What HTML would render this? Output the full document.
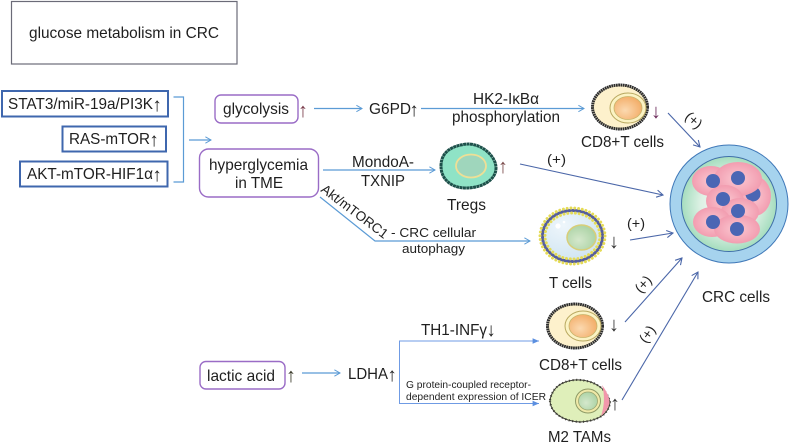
<!DOCTYPE html>
<html><head><meta charset="utf-8"><style>
html,body{margin:0;padding:0;background:#fff}
svg{display:block}
text{font-family:"Liberation Sans",sans-serif;fill:#1f1f1f}
.ar{font-size:20px;text-anchor:middle}
.ai{font-size:19px;text-anchor:middle}
</style></head><body>
<svg width="790" height="444" viewBox="0 0 790 444" xmlns="http://www.w3.org/2000/svg">
<defs>
<marker id="lb" viewBox="0 0 10 10" refX="9" refY="5" markerWidth="8" markerHeight="8" markerUnits="userSpaceOnUse" orient="auto"><path d="M2 1L9 5L2 9" fill="none" stroke="#5B9BD5" stroke-width="1.2"/></marker>
<marker id="db" viewBox="0 0 10 10" refX="9" refY="5" markerWidth="9" markerHeight="9" markerUnits="userSpaceOnUse" orient="auto"><path d="M2 1L9 5L2 9" fill="none" stroke="#4A66A8" stroke-width="1.2"/></marker>
<marker id="bl" viewBox="0 0 10 10" refX="9" refY="5" markerWidth="8" markerHeight="8" markerUnits="userSpaceOnUse" orient="auto"><path d="M1 1.500L9 5L1 8.500Z" fill="#5B8FE0"/></marker>
<radialGradient id="or" cx="0.4" cy="0.6" r="0.7"><stop offset="0" stop-color="#FBD9B0"/><stop offset="1" stop-color="#F2A860"/></radialGradient>
<radialGradient id="gr" cx="0.4" cy="0.6" r="0.7"><stop offset="0" stop-color="#D5E8CC"/><stop offset="1" stop-color="#A6D0A0"/></radialGradient>
<radialGradient id="pk"><stop offset="0" stop-color="#FBC9D2"/><stop offset="1" stop-color="#F29DB0"/></radialGradient>
<radialGradient id="mint"><stop offset="0" stop-color="#fff"/><stop offset="0.6" stop-color="#DDF1E4"/><stop offset="1" stop-color="#A5DDBE"/></radialGradient>
<radialGradient id="tc" cx="0.35" cy="0.3" r="0.8"><stop offset="0" stop-color="#EEF6FB"/><stop offset="1" stop-color="#CDE3F1"/></radialGradient>
</defs>

<rect x="11.500" y="1.500" width="225.500" height="62.500" fill="#fff" stroke="#6b6b78" stroke-width="1.200"/>
<text x="29" y="38" font-size="16" textLength="190" lengthAdjust="spacingAndGlyphs">glucose metabolism in CRC</text>

<g fill="#fff" stroke="#3F67AE" stroke-width="2">
<rect x="2" y="91" width="166" height="25.500"/>
<rect x="62.500" y="126.500" width="103.500" height="25"/>
<rect x="20" y="161.500" width="147.500" height="25"/>
</g>
<g font-size="16">
<text x="8" y="109" textLength="145" lengthAdjust="spacingAndGlyphs">STAT3/miR-19a/PI3K</text>
<text x="69" y="144" textLength="81" lengthAdjust="spacingAndGlyphs">RAS-mTOR</text>
<text x="27" y="179" textLength="126" lengthAdjust="spacingAndGlyphs">AKT-mTOR-HIF1α</text>
</g>
<text class="ai" x="157" y="111">↑</text>
<text class="ai" x="154" y="146">↑</text>
<text class="ai" x="157" y="181">↑</text>

<path d="M173.500 97H183.500V182H173.500" fill="none" stroke="#5B9BD5" stroke-width="1.200"/>
<line x1="189" y1="140" x2="211" y2="140" stroke="#5B9BD5" stroke-width="1.200" marker-end="url(#lb)"/>

<g fill="#fff" stroke="#9A6CC6" stroke-width="1.400">
<rect x="215" y="95" width="83" height="28" rx="6"/>
<rect x="199.500" y="149" width="119" height="48" rx="9"/>
<rect x="200" y="361.500" width="85" height="27.500" rx="6"/>
</g>
<text x="223" y="114" font-size="16" textLength="66" lengthAdjust="spacingAndGlyphs">glycolysis</text>
<text class="ar" x="303" y="117" style="fill:#7a3b4a">↑</text>
<text x="209" y="170" font-size="16" textLength="99" lengthAdjust="spacingAndGlyphs">hyperglycemia</text>
<text x="235" y="188" font-size="16" textLength="48" lengthAdjust="spacingAndGlyphs">in TME</text>
<text x="207" y="381" font-size="16" textLength="68" lengthAdjust="spacingAndGlyphs">lactic acid</text>
<text class="ar" x="291" y="382" style="fill:#3a3a2a">↑</text>

<g fill="none" stroke="#5B9BD5" stroke-width="1.200">
<line x1="314" y1="108.500" x2="362" y2="108.500" marker-end="url(#lb)"/>
<line x1="421" y1="108.500" x2="584" y2="108.500" marker-end="url(#lb)"/>
<line x1="323" y1="170" x2="435" y2="170" marker-end="url(#lb)"/>
<path d="M320 197L375 241H530" marker-end="url(#lb)"/>
<line x1="302" y1="373" x2="340" y2="373" marker-end="url(#lb)"/>
</g>
<path d="M538 341H399.500V403.500H538" fill="none" stroke="#6F9BE4" stroke-width="1"/>
<line x1="500" y1="341" x2="539" y2="341" stroke="#6F9BE4" stroke-width="1" marker-end="url(#bl)"/>
<line x1="500" y1="403.500" x2="539" y2="403.500" stroke="#6F9BE4" stroke-width="1" marker-end="url(#bl)"/>

<g fill="none" stroke="#4A66A8" stroke-width="1.100">
<line x1="668" y1="113" x2="700" y2="147" marker-end="url(#db)"/>
<line x1="520" y1="164" x2="663" y2="195" marker-end="url(#db)"/>
<line x1="630" y1="240" x2="673" y2="233" marker-end="url(#db)"/>
<line x1="625" y1="322" x2="682" y2="258" marker-end="url(#db)"/>
<line x1="622" y1="400" x2="698" y2="272" marker-end="url(#db)"/>
</g>

<g font-size="16">
<text x="369" y="114" textLength="42" lengthAdjust="spacingAndGlyphs">G6PD</text>
<text x="473" y="104" textLength="66" lengthAdjust="spacingAndGlyphs">HK2-IκBα</text>
<text x="452" y="122" textLength="108" lengthAdjust="spacingAndGlyphs">phosphorylation</text>
<text x="581" y="147" textLength="83" lengthAdjust="spacingAndGlyphs">CD8+T cells</text>
<text x="352" y="167" textLength="62" lengthAdjust="spacingAndGlyphs">MondoA-</text>
<text x="361" y="186" textLength="44" lengthAdjust="spacingAndGlyphs">TXNIP</text>
<text x="447" y="210" textLength="39" lengthAdjust="spacingAndGlyphs">Tregs</text>
<text x="549" y="288" textLength="43" lengthAdjust="spacingAndGlyphs">T cells</text>
<text x="539" y="370" textLength="83" lengthAdjust="spacingAndGlyphs">CD8+T cells</text>
<text x="548" y="442" textLength="63" lengthAdjust="spacingAndGlyphs">M2 TAMs</text>
<text x="702" y="302" textLength="68" lengthAdjust="spacingAndGlyphs">CRC cells</text>
<text x="348" y="379" textLength="40" lengthAdjust="spacingAndGlyphs">LDHA</text>
<text x="421" y="335" textLength="66" lengthAdjust="spacingAndGlyphs">TH1-INFγ</text>
</g>
<text class="ai" x="414" y="116">↑</text>
<text class="ai" x="392" y="381">↑</text>
<text class="ai" x="491" y="336">↓</text>
<g font-size="14">
<text x="547" y="164" textLength="19" lengthAdjust="spacingAndGlyphs">(+)</text>
<text x="627" y="228" textLength="18" lengthAdjust="spacingAndGlyphs">(+)</text>
<text transform="translate(694 120) rotate(42)" text-anchor="middle" y="5">(+)</text>
<text transform="translate(643 284) rotate(-48)" text-anchor="middle" y="5">(+)</text>
<text transform="translate(647 334) rotate(-55)" text-anchor="middle" y="5">(+)</text>
</g>
<text transform="translate(320 191) rotate(37)" font-size="13.500" textLength="80" lengthAdjust="spacingAndGlyphs">Akt/mTORC1</text>
<text x="391" y="237" font-size="13" textLength="85" lengthAdjust="spacingAndGlyphs">- CRC cellular</text>
<text x="402" y="253" font-size="13" textLength="63" lengthAdjust="spacingAndGlyphs">autophagy</text>
<text x="406" y="388" font-size="10.500" textLength="125" lengthAdjust="spacingAndGlyphs">G protein-coupled receptor-</text>
<text x="406" y="400" font-size="10.500" textLength="140" lengthAdjust="spacingAndGlyphs">dependent expression of ICER</text>

<text class="ar" x="656" y="118" style="fill:#6b2a5a">↓</text>
<text class="ar" x="503" y="173" style="fill:#7a4a4a">↑</text>
<text class="ar" x="614" y="248" style="fill:#333">↓</text>
<text class="ar" x="614" y="331" style="fill:#333">↓</text>
<text class="ar" x="615" y="410" style="fill:#333">↑</text>

<!-- CD8 upper -->
<ellipse cx="620" cy="107" rx="27.500" ry="22" fill="#FDF1CC" stroke="#2d2d2d" stroke-width="3" stroke-dasharray="1.800 .5"/>
<ellipse cx="628" cy="108" rx="18" ry="15" fill="#FBF3C4" stroke="#B8A860" stroke-width="1"/>
<ellipse cx="628" cy="108" rx="14" ry="11.500" fill="url(#or)" stroke="#C9B46A" stroke-width=".8"/>
<!-- CD8 lower -->
<ellipse cx="575" cy="326" rx="27.500" ry="22" fill="#FDF1CC" stroke="#2d2d2d" stroke-width="3" stroke-dasharray="1.800 .5"/>
<ellipse cx="583" cy="326" rx="18" ry="15" fill="#FBF3C4" stroke="#B8A860" stroke-width="1"/>
<ellipse cx="583" cy="326" rx="14" ry="11.500" fill="url(#or)" stroke="#C9B46A" stroke-width=".8"/>

<!-- Tregs -->
<path d="M441 166C441 150 455 145 468 144C482 144 496 156 496 168C496 180 482 188 466 188C452 188 441 180 441 166Z" fill="#8FE3C6" stroke="#1d504a" stroke-width="3" stroke-dasharray="3 .4"/>
<ellipse cx="471" cy="166" rx="15" ry="11.500" fill="#9FD6BC" stroke="#EEDF96" stroke-width="1.800"/>

<!-- T cell -->
<ellipse cx="572.500" cy="236" rx="30" ry="25.500" fill="url(#tc)" stroke="#565E9E" stroke-width="3"/>
<ellipse cx="572.500" cy="236" rx="32.500" ry="28" fill="none" stroke="#E5DB55" stroke-width="3" stroke-linecap="round" stroke-dasharray="0.01 3.800"/>
<ellipse cx="572.500" cy="236" rx="27.500" ry="23" fill="none" stroke="#E5DB55" stroke-width="3" stroke-linecap="round" stroke-dasharray="0.01 3.800"/>
<circle cx="558" cy="226" r="2.600" fill="#fff"/><circle cx="564" cy="222" r="1.300" fill="#fff"/>
<ellipse cx="581.500" cy="237.500" rx="14.500" ry="12.500" fill="url(#gr)" stroke="#D8CE78" stroke-width="1.500"/>

<!-- M2 -->
<path d="M550 400C552 390 558 382 574 380C590 379 606 386 610 402C609 414 598 421 580 422C562 421 550 412 550 400Z" fill="#DFEFBA" stroke="#3b3b33" stroke-width="1"/>
<path d="M550 400C552 390 558 382 574 380C590 379 606 386 610 402C609 414 598 421 580 422C562 421 550 412 550 400Z" fill="none" stroke="#3b3b33" stroke-width="2.200" stroke-dasharray="1 2.600"/>
<path d="M602 385C607 392 609.500 397 609.500 403C608.500 408 605 413 601 416C604.500 406 605 395 602 385Z" fill="#F197AB"/>
<ellipse cx="588" cy="401" rx="12.500" ry="12" fill="#EFE9A8" stroke="#8E9A66" stroke-width="1"/>
<ellipse cx="588" cy="401" rx="9.500" ry="9" fill="url(#gr)" stroke="#9aa56f" stroke-width=".8"/>

<!-- CRC -->
<circle cx="729" cy="204" r="59" fill="#A6D3EE" stroke="#3F78B8" stroke-width="1"/>
<circle cx="729" cy="204" r="47.500" fill="url(#mint)" stroke="#3F6FA8" stroke-width="1"/>
<ellipse cx="754" cy="196" rx="17" ry="20" fill="url(#pk)"/><circle cx="753" cy="194" r="7.500" fill="#4A66B4"/>
<ellipse cx="711" cy="181" rx="19" ry="15" fill="url(#pk)"/>
<ellipse cx="738" cy="179" rx="24" ry="17" fill="url(#pk)"/>
<ellipse cx="725" cy="201" rx="19" ry="16" fill="url(#pk)"/>
<ellipse cx="740" cy="212" rx="19" ry="14" fill="url(#pk)"/>
<ellipse cx="712" cy="222" rx="19" ry="15" fill="url(#pk)"/>
<ellipse cx="737" cy="229" rx="23" ry="14.500" fill="url(#pk)"/>
<g fill="#4A66B4">
<circle cx="713" cy="181" r="7"/><circle cx="738" cy="178" r="7"/><circle cx="723" cy="199" r="7"/><circle cx="738" cy="211" r="7"/><circle cx="713" cy="222" r="7"/><circle cx="737" cy="229" r="7"/>
</g>
</svg>
</body></html>
